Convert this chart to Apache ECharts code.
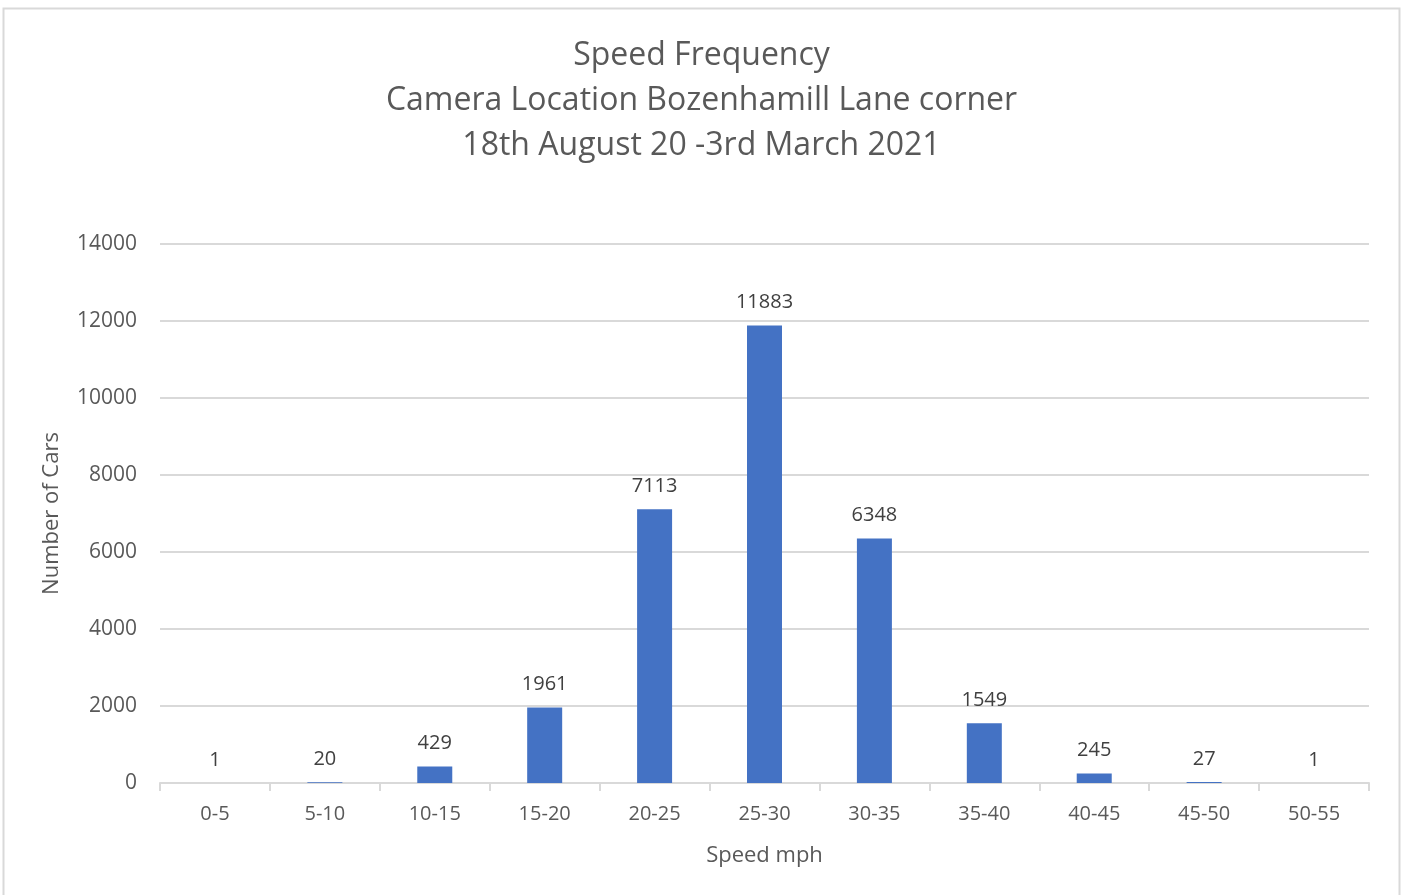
<!DOCTYPE html>
<html>
<head>
<meta charset="utf-8">
<script src="https://cdn.jsdelivr.net/npm/echarts@6/dist/echarts.min.js"></script>
<style>
  html, body { margin: 0; padding: 0; background: #fff; }
  #chart { width: 1403px; height: 895px; }
</style>
</head>
<body>
<div id="chart"></div>
<script>
var categories = ["0-5", "5-10", "10-15", "15-20", "20-25", "25-30", "30-35", "35-40", "40-45", "45-50", "50-55"];
var carCounts = [1, 20, 429, 1961, 7113, 11883, 6348, 1549, 245, 27, 1];
var titleLines = ["Speed Frequency", "Camera Location Bozenhamill Lane corner", "18th August 20 -3rd March 2021"];

var font = "Open Sans";
var chart = echarts.init(document.getElementById("chart"));

var option = {
  backgroundColor: "#fff",
  animation: false,
  textStyle: { fontFamily: font },
  graphic: [{
    type: "rect",
    shape: { x: 3.5, y: 8.5, width: 1396, height: 890 },
    style: { fill: "none", stroke: "#d9d9d9", lineWidth: 2 },
    silent: true
  }],
  title: {
    text: titleLines.join("\n"),
    left: "center",
    top: 28,
    textStyle: {
      fontFamily: font,
      fontSize: 32,
      fontWeight: "normal",
      color: "#595959",
      lineHeight: 45
    }
  },
  grid: {
    left: 160,
    right: 34,
    top: 244,
    bottom: 112,
    containLabel: false
  },
  xAxis: {
    type: "category",
    data: categories,
    name: "Speed mph",
    nameLocation: "middle",
    nameGap: 62,
    nameTextStyle: { fontFamily: font, fontSize: 22, color: "#595959" },
    axisLine: { lineStyle: { color: "#d9d9d9", width: 2 } },
    axisTick: { show: true, alignWithLabel: false, length: 8, lineStyle: { color: "#d9d9d9", width: 2 } },
    axisLabel: { fontFamily: font, fontSize: 20, color: "#595959", margin: 21 },
    splitLine: { show: false }
  },
  yAxis: {
    type: "value",
    min: 0,
    max: 14000,
    interval: 2000,
    name: "Number of Cars",
    nameLocation: "middle",
    nameGap: 97,
    nameRotate: 90,
    nameTextStyle: { fontFamily: font, fontSize: 22, color: "#595959" },
    axisLine: { show: false },
    axisTick: { show: false },
    axisLabel: {
      fontFamily: font,
      fontSize: 21,
      color: "#595959",
      margin: 23,
      formatter: function (v) { return String(v); }
    },
    splitLine: { lineStyle: { color: "#d9d9d9", width: 2 } }
  },
  series: [{
    type: "bar",
    data: carCounts,
    barWidth: 35,
    itemStyle: { color: "#4472c4" },
    label: {
      show: true,
      position: "top",
      distance: 13,
      fontFamily: font,
      fontSize: 20,
      color: "#404040"
    }
  }]
};

chart.setOption(option);
</script>
</body>
</html>
